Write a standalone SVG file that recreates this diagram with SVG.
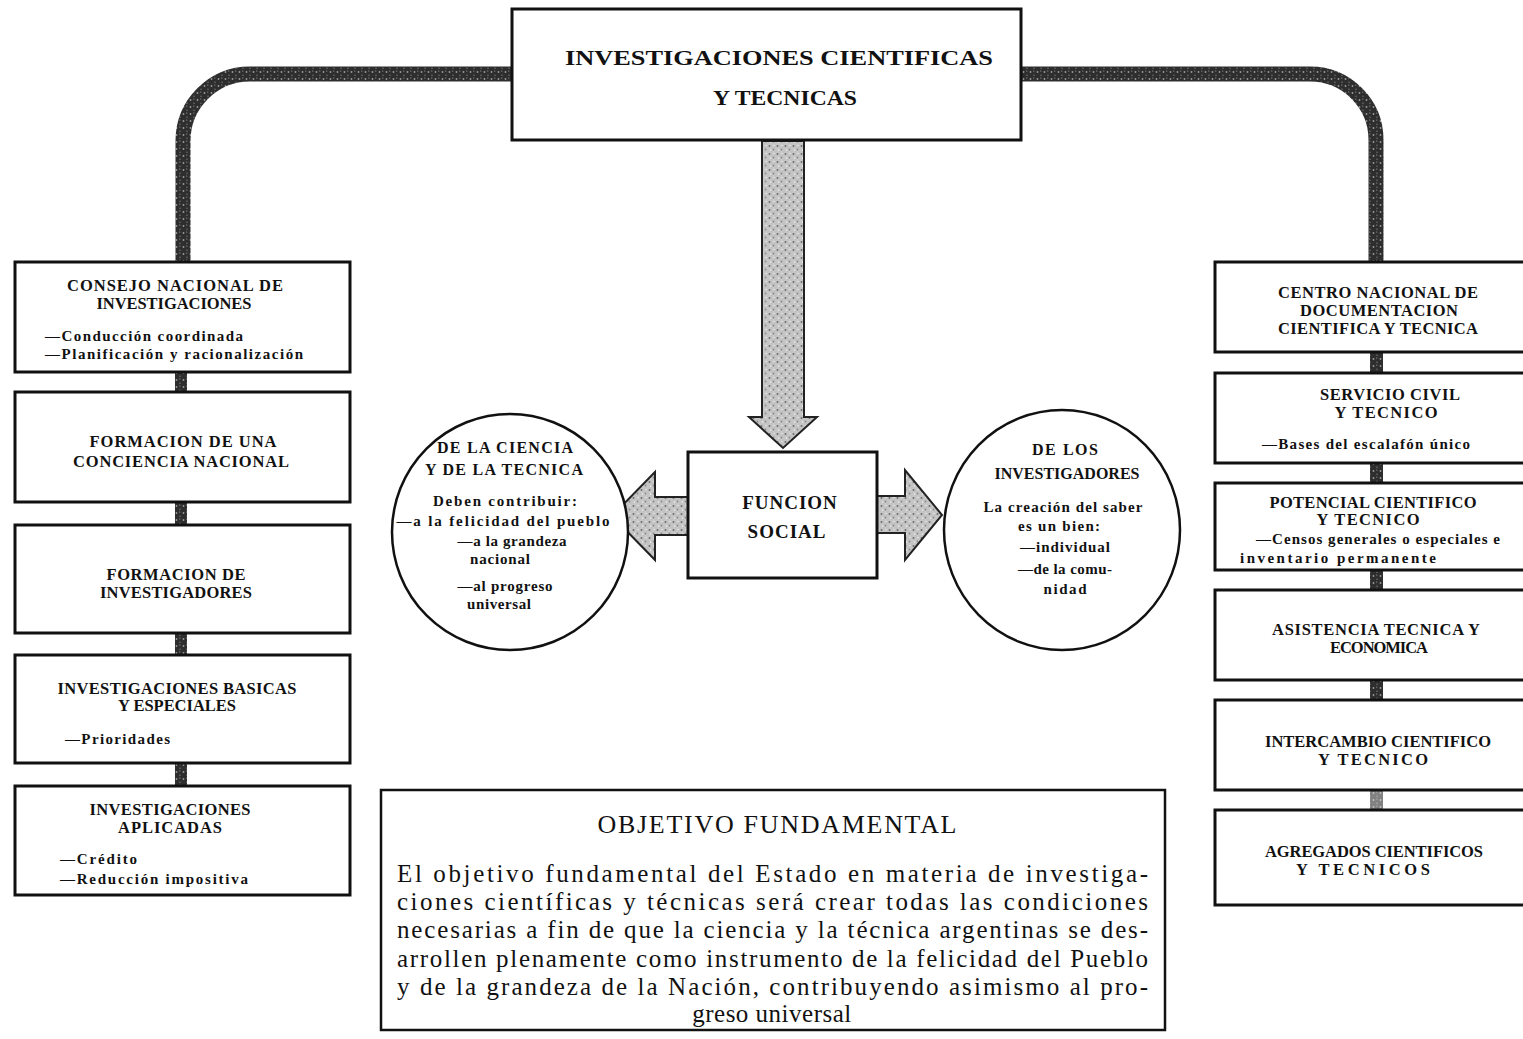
<svg xmlns="http://www.w3.org/2000/svg" width="1523" height="1039" viewBox="0 0 1523 1039">
<defs>
<pattern id="darkStip" width="7" height="7" patternUnits="userSpaceOnUse">
<rect width="7" height="7" fill="#2e2e2e"/>
<circle cx="1.5" cy="2" r="0.9" fill="#9a9a9a"/>
<circle cx="5" cy="5.2" r="0.7" fill="#7a7a7a"/>
<circle cx="4.8" cy="1" r="0.5" fill="#bbb"/>
</pattern>
<pattern id="lightStip" width="8" height="8" patternUnits="userSpaceOnUse">
<rect width="8" height="8" fill="#c4c4c4"/>
<circle cx="1.5" cy="2" r="1" fill="#6e6e6e"/>
<circle cx="5.5" cy="5.5" r="0.9" fill="#8a8a8a"/>
<circle cx="6" cy="1.5" r="0.7" fill="#eee"/>
<circle cx="2.5" cy="6" r="0.8" fill="#f2f2f2"/>
</pattern>
<style>
.box{fill:#fff;stroke:#111;stroke-width:3}
.circ{fill:#fff;stroke:#111;stroke-width:2.5}
.lbl{font-family:"Liberation Serif","DejaVu Serif",serif;font-weight:bold;font-size:16.5px;fill:#111;text-anchor:middle}
.sub{font-family:"Liberation Serif","DejaVu Serif",serif;font-weight:bold;font-size:15px;fill:#111}
.subc{font-family:"Liberation Serif","DejaVu Serif",serif;font-weight:bold;font-size:15px;fill:#111;text-anchor:middle}
.title{font-family:"Liberation Serif","DejaVu Serif",serif;font-weight:bold;font-size:22px;fill:#111;text-anchor:middle}
.body{font-family:"Liberation Serif","DejaVu Serif",serif;font-size:25px;fill:#111}
.big{font-family:"Liberation Serif","DejaVu Serif",serif;font-weight:bold;font-size:19px;letter-spacing:1px;fill:#111;text-anchor:middle}
.band{fill:none;stroke:url(#darkStip);stroke-width:15}
.link{fill:url(#darkStip)}
.arrow{fill:url(#lightStip);stroke:#222;stroke-width:2}
</style>
</defs>
<rect width="1523" height="1039" fill="#fff"/>

<g id="connectors">
<path class="band" d="M 514 74 H 250 A 67 67 0 0 0 183 141 V 263"/>
<path class="band" d="M 1019 74 H 1310 A 66 66 0 0 1 1376 140 V 263"/>
<polygon class="arrow" points="762,141 804,141 804,417 817,417 783,448 749,417 762,417"/>
<polygon class="arrow" points="688,497 655,497 655,472 612,516 655,560 655,535 688,535"/>
<polygon class="arrow" points="877,496 905,496 905,470 942,515 905,560 905,533 877,533"/>
<rect class="link" x="175" y="372" width="12" height="20"/>
<rect class="link" x="175" y="502" width="12" height="23"/>
<rect class="link" x="175" y="633" width="12" height="22"/>
<rect class="link" x="175" y="763" width="12" height="23"/>
<rect class="link" x="1370" y="352" width="13" height="21"/>
<rect class="link" x="1370" y="463" width="13" height="20"/>
<rect class="link" x="1370" y="570" width="13" height="20"/>
<rect class="link" x="1370" y="680" width="13" height="20"/>
<rect class="link" x="1370" y="790" width="13" height="20" fill-opacity="0.6"/>
</g>

<g id="top">
<rect class="box" x="512" y="9" width="509" height="131"/>
<text class="title" x="779" y="65" textLength="428" lengthAdjust="spacingAndGlyphs">INVESTIGACIONES  CIENTIFICAS</text>
<text class="title" x="785" y="105" textLength="144" lengthAdjust="spacingAndGlyphs">Y  TECNICAS</text>
</g>

<g id="funcion">
<rect class="box" x="688" y="452" width="189" height="126"/>
<text class="big" x="790" y="509">FUNCION</text>
<text class="big" x="787" y="538">SOCIAL</text>
</g>

<g id="ciencia">
<ellipse class="circ" cx="510" cy="532" rx="118" ry="118"/>
<text class="subc" x="505" y="453" style="font-size:16px" textLength="136">DE LA CIENCIA</text>
<text class="subc" x="504" y="475" style="font-size:16px" textLength="158">Y DE LA TECNICA</text>
<text class="subc" x="505" y="506" textLength="144">Deben contribuir:</text>
<text class="subc" x="503" y="526" textLength="213">—a la felicidad del pueblo</text>
<text class="subc" x="512" y="546" textLength="109">—a la grandeza</text>
<text class="subc" x="500" y="564" textLength="60">nacional</text>
<text class="subc" x="505" y="591" textLength="95">—al progreso</text>
<text class="subc" x="499" y="609" textLength="64">universal</text>
</g>

<g id="investigadores">
<ellipse class="circ" cx="1062" cy="530" rx="118" ry="120"/>
<text class="subc" x="1065" y="455" style="font-size:16px" textLength="66">DE LOS</text>
<text class="subc" x="1067" y="479" style="font-size:16px" textLength="145">INVESTIGADORES</text>
<text class="subc" x="1063" y="512" textLength="159">La creación del saber</text>
<text class="subc" x="1059" y="531" textLength="82">es un bien:</text>
<text class="subc" x="1065" y="552" textLength="90">—individual</text>
<text class="subc" x="1065" y="574" textLength="94">—de la comu-</text>
<text class="subc" x="1065" y="594" textLength="43">nidad</text>
</g>

<g id="consejo">
<rect class="box" x="15" y="262" width="335" height="110"/>
<text class="lbl" x="175" y="291" textLength="216">CONSEJO NACIONAL DE</text>
<text class="lbl" x="174" y="309" textLength="155">INVESTIGACIONES</text>
<text class="sub" x="45" y="341" textLength="198">—Conducción coordinada</text>
<text class="sub" x="45" y="359" textLength="258">—Planificación y racionalización</text>
</g>
<g id="conciencia">
<rect class="box" x="15" y="392" width="335" height="110"/>
<text class="lbl" x="183" y="447" textLength="187">FORMACION DE UNA</text>
<text class="lbl" x="181" y="467" textLength="216">CONCIENCIA NACIONAL</text>
</g>
<g id="form-invest">
<rect class="box" x="15" y="525" width="335" height="108"/>
<text class="lbl" x="176" y="580" textLength="139">FORMACION DE</text>
<text class="lbl" x="176" y="598" textLength="152">INVESTIGADORES</text>
</g>
<g id="basicas">
<rect class="box" x="15" y="655" width="335" height="108"/>
<text class="lbl" x="177" y="694" textLength="239">INVESTIGACIONES BASICAS</text>
<text class="lbl" x="177" y="711" textLength="118">Y ESPECIALES</text>
<text class="sub" x="65" y="744" textLength="105">—Prioridades</text>
</g>
<g id="aplicadas">
<rect class="box" x="15" y="786" width="335" height="109"/>
<text class="lbl" x="170" y="815" textLength="161">INVESTIGACIONES</text>
<text class="lbl" x="170" y="833" textLength="104">APLICADAS</text>
<text class="sub" x="60" y="864" textLength="77">—Crédito</text>
<text class="sub" x="60" y="884" textLength="188">—Reducción impositiva</text>
</g>

<g id="centro">
<rect class="box" x="1215" y="262" width="320" height="90"/>
<text class="lbl" x="1378" y="298" textLength="200">CENTRO NACIONAL DE</text>
<text class="lbl" x="1379" y="316" textLength="158">DOCUMENTACION</text>
<text class="lbl" x="1378" y="334" textLength="200">CIENTIFICA Y TECNICA</text>
</g>
<g id="servicio">
<rect class="box" x="1215" y="373" width="320" height="90"/>
<text class="lbl" x="1390" y="400" textLength="140">SERVICIO CIVIL</text>
<text class="lbl" x="1386" y="418" textLength="103">Y TECNICO</text>
<text class="sub" x="1262" y="449" textLength="208">—Bases del escalafón único</text>
</g>
<g id="potencial">
<rect class="box" x="1215" y="483" width="320" height="87"/>
<text class="lbl" x="1373" y="508" textLength="207">POTENCIAL CIENTIFICO</text>
<text class="lbl" x="1368" y="525" textLength="103">Y TECNICO</text>
<text class="sub" x="1256" y="544" textLength="244">—Censos generales o especiales e</text>
<text class="sub" x="1240" y="563" textLength="196">inventario permanente</text>
</g>
<g id="asistencia">
<rect class="box" x="1215" y="590" width="320" height="90"/>
<text class="lbl" x="1376" y="635" textLength="208">ASISTENCIA TECNICA Y</text>
<text class="lbl" x="1379" y="653" textLength="98">ECONOMICA</text>
</g>
<g id="intercambio">
<rect class="box" x="1215" y="700" width="320" height="90"/>
<text class="lbl" x="1378" y="747" textLength="226">INTERCAMBIO CIENTIFICO</text>
<text class="lbl" x="1373" y="765" textLength="110">Y TECNICO</text>
</g>
<g id="agregados">
<rect class="box" x="1215" y="810" width="320" height="95"/>
<text class="lbl" x="1374" y="857" textLength="218">AGREGADOS CIENTIFICOS</text>
<text class="lbl" x="1363" y="875" textLength="134">Y TECNICOS</text>
</g>

<g id="objetivo">
<rect class="box" x="381" y="790" width="784" height="240" style="stroke-width:2.5"/>
<text class="body" x="777" y="833" style="text-anchor:middle;font-size:26px" textLength="359">OBJETIVO FUNDAMENTAL</text>
<text class="body" x="397" y="882" textLength="751" lengthAdjust="spacing">El objetivo fundamental del Estado en materia de investiga-</text>
<text class="body" x="397" y="910" textLength="751" lengthAdjust="spacing">ciones científicas y técnicas será crear todas las condiciones</text>
<text class="body" x="397" y="938" textLength="751" lengthAdjust="spacing">necesarias a fin de que la ciencia y la técnica argentinas se des-</text>
<text class="body" x="397" y="967" textLength="751" lengthAdjust="spacing">arrollen plenamente como instrumento de la felicidad del Pueblo</text>
<text class="body" x="397" y="995" textLength="751" lengthAdjust="spacing">y de la grandeza de la Nación, contribuyendo asimismo al pro-</text>
<text class="body" x="772" y="1022" style="text-anchor:middle;letter-spacing:0.5px">greso universal</text>
</g>
</svg>
